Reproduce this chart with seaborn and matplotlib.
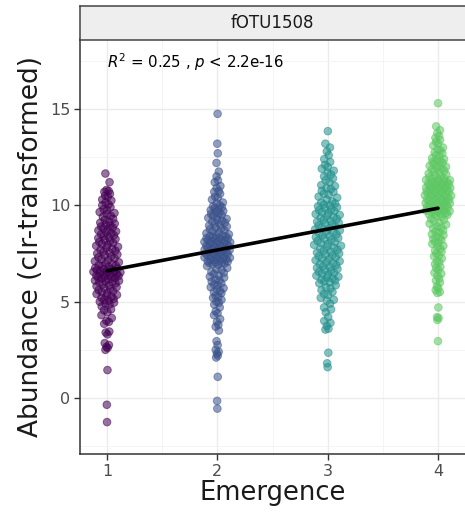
import numpy as np
import pandas as pd
import matplotlib
matplotlib.use("Agg")
import matplotlib.pyplot as plt
import seaborn as sns

# values, one list per emergence group
emergence_levels = [1, 2, 3, 4]
abund_1 = [-1.25, -0.35, 1.45, 2.5, 2.6, 2.65, 2.75, 2.85, 3.3, 3.4, 3.45, 3.85, 3.95,
           4.0, 4.15, 4.3, 4.45, 4.55, 4.6, 4.75, 4.85, 4.9, 4.95,
           5.0, 5.05, 5.1, 5.15, 5.2, 5.25, 5.3, 5.35, 5.4, 5.45, 5.5, 5.55, 5.6,
           5.65, 5.7, 5.75, 5.8, 5.85, 5.9, 5.95,
           6.0, 6.02, 6.05, 6.08, 6.1, 6.15, 6.2, 6.22, 6.25, 6.28, 6.3, 6.33,
           6.35, 6.38, 6.4, 6.42, 6.45, 6.48, 6.5, 6.52, 6.55, 6.58, 6.6, 6.62,
           6.65, 6.68, 6.7, 6.72, 6.75, 6.8, 6.85, 6.88, 6.9, 6.95,
           7.0, 7.05, 7.1, 7.15, 7.2, 7.25, 7.3, 7.35, 7.4, 7.45, 7.5, 7.55, 7.6,
           7.65, 7.7, 7.75, 7.8, 7.85, 7.9, 7.95,
           8.0, 8.05, 8.1, 8.15, 8.2, 8.25, 8.3, 8.35, 8.4, 8.45, 8.5, 8.55, 8.6,
           8.65, 8.7, 8.75, 8.8, 8.85, 8.9, 8.95,
           9.0, 9.05, 9.1, 9.15, 9.25, 9.3, 9.4, 9.45, 9.55, 9.6, 9.65, 9.75,
           9.8, 9.9, 10.0, 10.05, 10.15, 10.25, 10.3, 10.45, 10.5, 10.6, 10.7,
           10.75, 10.8, 11.2, 11.65]
abund_2 = [-0.55, -0.15, 1.1, 2.1, 2.2, 2.3, 2.4, 2.5, 2.75, 2.95, 3.5, 3.7, 3.8,
           3.95, 4.1, 4.3, 4.4, 4.5, 4.7, 4.85, 4.95, 5.0, 5.1, 5.2, 5.25, 5.3,
           5.45, 5.5, 5.55, 5.65, 5.7, 5.75, 5.85, 5.9, 5.95, 6.05, 6.1, 6.15,
           6.25, 6.3, 6.35, 6.45, 6.5, 6.55, 6.65, 6.7, 6.75, 6.85, 6.9, 6.95,
           6.98, 7.0, 7.02, 7.05, 7.08, 7.1, 7.12, 7.15, 7.18, 7.2, 7.22, 7.25,
           7.28, 7.3, 7.32, 7.35, 7.38, 7.4, 7.42, 7.45, 7.48, 7.5, 7.52, 7.55,
           7.58, 7.6, 7.62, 7.65, 7.68, 7.7, 7.72, 7.75, 7.78, 7.8, 7.82, 7.85,
           7.88, 7.9, 7.92, 7.95, 7.98, 8.0, 8.02, 8.05, 8.08, 8.1, 8.12, 8.15,
           8.18, 8.2, 8.22, 8.25, 8.28, 8.3, 8.32, 8.35, 8.38, 8.4, 8.42, 8.45,
           8.5, 8.55, 8.6, 8.65, 8.7, 8.75, 8.8, 8.85, 8.9, 8.95, 9.0, 9.05, 9.1,
           9.15, 9.2, 9.25, 9.3, 9.35, 9.4, 9.45, 9.5, 9.55, 9.6, 9.65, 9.7, 9.75,
           9.8, 9.85, 9.9, 9.95, 10.0, 10.1, 10.15, 10.3, 10.4, 10.45, 10.6,
           10.7, 10.75, 10.9, 11.0, 11.2, 11.3, 11.5, 11.75, 12.2, 12.7, 13.2,
           14.75]
abund_3 = [1.6, 1.8, 2.35, 3.55, 3.6, 3.75, 3.9, 4.0, 4.2, 4.45, 4.6, 4.7,
           4.9, 5.05, 5.1, 5.2, 5.35, 5.4, 5.5, 5.6, 5.7, 5.75, 5.85, 5.95,
           6.0, 6.05, 6.1, 6.15, 6.2, 6.25, 6.3, 6.35, 6.4, 6.45, 6.5, 6.55, 6.6,
           6.65, 6.7, 6.75, 6.8, 6.85, 6.9, 6.95, 7.0, 7.05, 7.1, 7.15, 7.2,
           7.25, 7.3, 7.35, 7.4, 7.45, 7.5, 7.55, 7.6, 7.65, 7.7, 7.75, 7.8,
           7.85, 7.9, 7.95, 8.0, 8.05, 8.1, 8.15, 8.2, 8.25, 8.3, 8.35, 8.4,
           8.45, 8.5, 8.55, 8.6, 8.65, 8.7, 8.75, 8.8, 8.85, 8.9, 8.95,
           9.0, 9.05, 9.1, 9.15, 9.2, 9.25, 9.3, 9.35, 9.4, 9.45, 9.5, 9.55,
           9.6, 9.65, 9.7, 9.75, 9.8, 9.85, 9.9, 9.95, 10.0, 10.05, 10.1, 10.15,
           10.2, 10.3, 10.4, 10.45, 10.55, 10.6, 10.7, 10.75, 10.85, 10.9,
           11.0, 11.05, 11.2, 11.3, 11.4, 11.5, 11.6, 11.7, 11.8, 11.9, 12.0,
           12.1, 12.25, 12.4, 12.6, 12.8, 13.0, 13.2, 13.85]
abund_4 = [2.95, 4.05, 4.15, 4.2, 4.7, 5.45, 5.5, 5.6, 5.7, 5.8, 6.0,
           6.1, 6.2, 6.35, 6.45, 6.5, 6.65, 6.75, 6.8, 6.95, 7.05, 7.1, 7.25,
           7.35, 7.4, 7.5, 7.6, 7.65, 7.75, 7.85, 7.9,
           8.0, 8.05, 8.1, 8.2, 8.25, 8.3, 8.4, 8.45, 8.5, 8.6, 8.65, 8.7, 8.8,
           8.85, 8.9, 9.0, 9.05, 9.1, 9.2, 9.25, 9.3, 9.4, 9.45,
           9.5, 9.52, 9.55, 9.58, 9.6, 9.62, 9.65, 9.68, 9.7, 9.72, 9.75, 9.78,
           9.8, 9.82, 9.85, 9.88, 9.9, 9.92, 9.95, 9.98, 10.0, 10.02, 10.05,
           10.08, 10.1, 10.12, 10.15, 10.18, 10.2, 10.22, 10.25, 10.28, 10.3,
           10.32, 10.35, 10.38, 10.4, 10.42, 10.45, 10.48, 10.5, 10.52, 10.55,
           10.58, 10.6, 10.62, 10.65, 10.68, 10.7, 10.72, 10.75, 10.78, 10.8,
           10.82, 10.85, 10.88, 10.9, 10.92, 10.95, 10.98, 11.0, 11.02, 11.05,
           11.08, 11.1, 11.12, 11.15, 11.18, 11.2, 11.22, 11.25, 11.28, 11.3,
           11.32, 11.35, 11.38, 11.4, 11.45, 11.5, 11.55, 11.6, 11.65, 11.7,
           11.75, 11.8, 11.85, 11.9, 11.95, 12.0, 12.05, 12.1, 12.15, 12.2,
           12.25, 12.3, 12.35, 12.4, 12.45, 12.55, 12.6, 12.7, 12.75, 12.85,
           12.9, 13.0, 13.1, 13.2, 13.3, 13.4, 13.5, 13.6, 13.75, 13.9, 14.1,
           15.3]

# linear fit shown in the reference (end points at x=1 and x=4)
fit_x = [1, 4]
fit_y = [6.6, 9.85]

panel_title = "fOTU1508"
stats_label = r"$R^2$ = 0.25 , $p$ < 2.2e-16"
group_colors = ["#440154", "#3B528B", "#21908C", "#5DC863"]


def vdc(n, base=2):
    # van der Corput sequence, like ggbeeswarm's quasirandom
    out = []
    for i in range(1, n + 1):
        v, denom, k = 0.0, 1.0, i
        while k:
            k, r = divmod(k, base)
            denom *= base
            v += r / denom
        out.append(v)
    return np.array(out)


def quasirandom_offsets(vals, width=0.125, bw=0.9):
    vals = np.asarray(vals, dtype=float)
    dens = np.exp(-0.5 * ((vals[:, None] - vals[None, :]) / bw) ** 2).sum(axis=1)
    dens = dens / dens.max()
    ranks = np.argsort(np.argsort(vals, kind="stable"), kind="stable")
    seq = vdc(len(vals))[ranks]
    return (seq * 2 - 1) * width * dens


frames = []
for lvl, vals in zip(emergence_levels, [abund_1, abund_2, abund_3, abund_4]):
    frames.append(pd.DataFrame({
        "Emergence": lvl,
        "Abundance": vals,
        "xpos": lvl + quasirandom_offsets(vals),
    }))
df = pd.concat(frames, ignore_index=True)

sns.set_theme(style="white")
plt.rcParams["font.family"] = ["DejaVu Sans"]
plt.rcParams["mathtext.fontset"] = "dejavusans"

fig = plt.figure(figsize=(4.65, 5.12), dpi=100)
ax = fig.add_axes([80 / 465, 58 / 512, 1 - 80 / 465, (454 - 39.5) / 512])

sns.scatterplot(
    data=df, x="xpos", y="Abundance", hue="Emergence",
    palette=dict(zip(emergence_levels, group_colors)),
    s=30, alpha=0.55, edgecolor="face", linewidth=0.7,
    legend=False, ax=ax, zorder=3,
)
sns.lineplot(x=fit_x, y=fit_y, color="black", linewidth=2.6, ax=ax, zorder=4)

ax.set_xlim(0.755, 4.245)
ax.set_ylim(-2.906, 18.607)
ax.set_xticks(emergence_levels)
ax.set_xticks([1.5, 2.5, 3.5], minor=True)
ax.set_yticks([0, 5, 10, 15])
ax.set_yticks([-2.5, 2.5, 7.5, 12.5, 17.5], minor=True)
ax.grid(which="major", color="#EBEBEB", linewidth=1.0, zorder=0)
ax.grid(which="minor", color="#F2F2F2", linewidth=0.6, zorder=0)
ax.set_axisbelow(True)
ax.tick_params(which="major", length=4.3, width=1.0, color="#333333",
               labelsize=11.5, labelcolor="#4D4D4D", pad=2.8,
               left=True, bottom=True)
ax.tick_params(which="minor", length=0)

for side in ["top", "right"]:
    ax.spines[side].set_visible(False)
for side in ["left", "bottom"]:
    ax.spines[side].set_color("#333333")
    ax.spines[side].set_linewidth(1.1)

ax.set_xlabel("Emergence", fontsize=18.5, color="#1A1A1A", labelpad=1)
ax.set_ylabel("Abundance (clr-transformed)", fontsize=19, color="#1A1A1A", labelpad=4)

ax.text(1.0, 17.44, stats_label, fontsize=10.8, ha="left", va="center", color="black")

# facet strip on top of the panel
strip = fig.add_axes([80 / 465, 1 - 39.5 / 512, 1 - 80 / 465 + 0.02, 33.5 / 512])
strip.set_facecolor("#EEEEEE")
strip.set_xticks([])
strip.set_yticks([])
for side in ["top", "bottom", "left"]:
    strip.spines[side].set_color("#444444")
    strip.spines[side].set_linewidth(1.1)
strip.spines["right"].set_visible(False)
strip.text((465 - 80) / 2 / (465 - 80 + 0.02 * 465), 0.5, panel_title,
           transform=strip.transAxes, ha="center", va="center",
           fontsize=12, color="#1A1A1A")

fig.savefig("out.png", dpi=100)
